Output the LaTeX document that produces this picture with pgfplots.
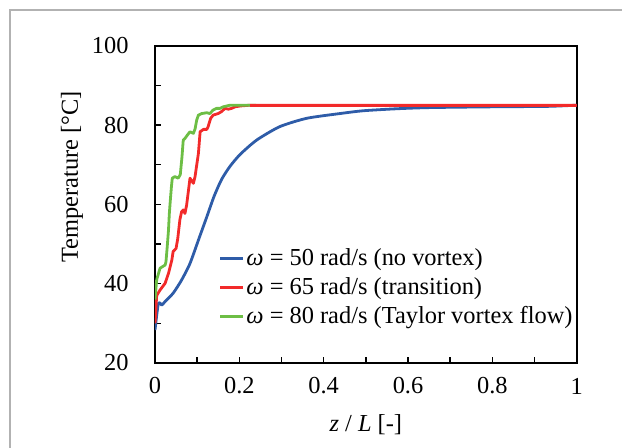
\documentclass[border=0pt]{standalone}
\usepackage{fontspec}
\setmainfont{Liberation Serif}
\usepackage{pgfplots}
\pgfplotsset{compat=1.18}

\definecolor{cblue}{HTML}{2E5CA8}
\definecolor{cred}{HTML}{F22A2A}
\definecolor{cgreen}{HTML}{6DBE45}

\newcommand{\fs}{\fontsize{12.2}{14.6}\selectfont}

\begin{document}
\begin{tikzpicture}
\useasboundingbox (-77.5pt,-42.5pt) rectangle (233.5pt,181.5pt);
\draw[gray!60, line width=0.7pt] (-72.5pt,-45pt) -- (-72.5pt,176.5pt) -- (240pt,176.5pt);
\begin{axis}[
    at={(0,0)}, anchor=south west,
    scale only axis, width=210.85pt, height=158.65pt,
    xmin=0, xmax=1, ymin=20, ymax=100,
    xtick={0,0.2,...,1}, ytick={20,40,...,100},
    minor x tick num=1, minor y tick num=1,
    xtick pos=lower, ytick pos=left,
    tick align=inside, major tick length=3pt, minor tick length=3pt,
    every tick/.style={black, line width=0.7pt},
    axis line style={black, line width=0.9pt},
    /pgf/number format/assume math mode=true,
    tick label style={font=\fs, inner sep=0pt},
    xticklabel style={anchor=center, yshift=-11.5pt},
    yticklabel style={anchor=east, xshift=-13pt},
    every axis y label/.style={at={(axis description cs:-0.197,0.586)}, rotate=90, anchor=center, font=\fs},
    every axis x label/.style={at={(axis description cs:0.5,-0.195)}, anchor=center, font=\fs},
    xlabel={\textit{z} / \textit{L} [-]},
    ylabel={Temperature [°C]},
    legend cell align=left,
    legend image code/.code={\draw[#1] (0pt,0pt) -- (11.5pt,0pt);},
    legend style={at={(axis description cs:0.150,0.372)}, anchor=north west,
        draw=none, fill=none, inner sep=0pt, row sep=1.5pt, font=\fs,
        nodes={inner sep=1pt, text height=9pt, text depth=2pt}},
    every axis plot/.append style={line width=1.4pt, line join=round},
]
\addplot[cblue, smooth, tension=0.4] coordinates {
(0.000,28.3) (0.004,32.0) (0.008,35.0) (0.012,35.1) (0.016,34.6) (0.024,35.5)
(0.043,37.6) (0.063,40.9) (0.083,45.1) (0.103,51.0) (0.123,56.9) (0.140,62.0)
(0.158,66.3) (0.178,69.6) (0.202,72.6) (0.241,76.2) (0.296,79.6) (0.360,81.7)
(0.439,82.9) (0.494,83.6) (0.573,84.1) (0.652,84.4) (0.810,84.6) (0.930,84.7)
(1.000,85.0)
};
\addlegendentry{\textit{ω} = 50 rad/s (no vortex)}
\addplot[cred] coordinates {
(0.000,30.0) (0.004,37.0) (0.012,38.4) (0.024,40.1) (0.032,42.6) (0.040,46.0)
(0.043,48.1) (0.050,48.9) (0.054,51.4) (0.059,56.1) (0.063,58.1) (0.067,58.6)
(0.071,57.7) (0.075,59.8) (0.079,63.2) (0.083,66.6) (0.091,65.3) (0.095,67.0)
(0.103,72.9) (0.107,78.3) (0.115,78.9) (0.123,78.9) (0.126,79.6) (0.132,81.7)
(0.138,82.5) (0.150,82.9) (0.158,83.4) (0.166,84.2) (0.174,84.0) (0.182,84.2)
(0.190,84.6) (0.202,84.8) (0.225,85.0) (0.273,85.0) (1.000,85.0)
};
\addlegendentry{\textit{ω} = 65 rad/s (transition)}
\addplot[cgreen] coordinates {
(0.000,36.0) (0.004,41.0) (0.012,43.9) (0.024,44.7) (0.026,45.5) (0.029,49.3)
(0.032,53.5) (0.034,57.7) (0.037,61.9) (0.039,64.5) (0.041,66.6) (0.047,67.0)
(0.055,66.6) (0.060,67.5) (0.064,72.0) (0.067,76.2) (0.071,76.6) (0.077,77.5)
(0.083,78.3) (0.091,77.9) (0.095,79.0) (0.099,81.3) (0.103,82.5) (0.111,82.9)
(0.123,83.1) (0.130,82.9) (0.138,83.8) (0.146,84.2) (0.154,84.2) (0.162,84.6)
(0.178,85.0) (0.240,85.0)
};
\addlegendentry{\textit{ω} = 80 rad/s (Taylor vortex flow)}
\addplot[cred, forget plot] coordinates {(0.225,85.0) (1.000,85.0)};
\end{axis}
\end{tikzpicture}
\end{document}
